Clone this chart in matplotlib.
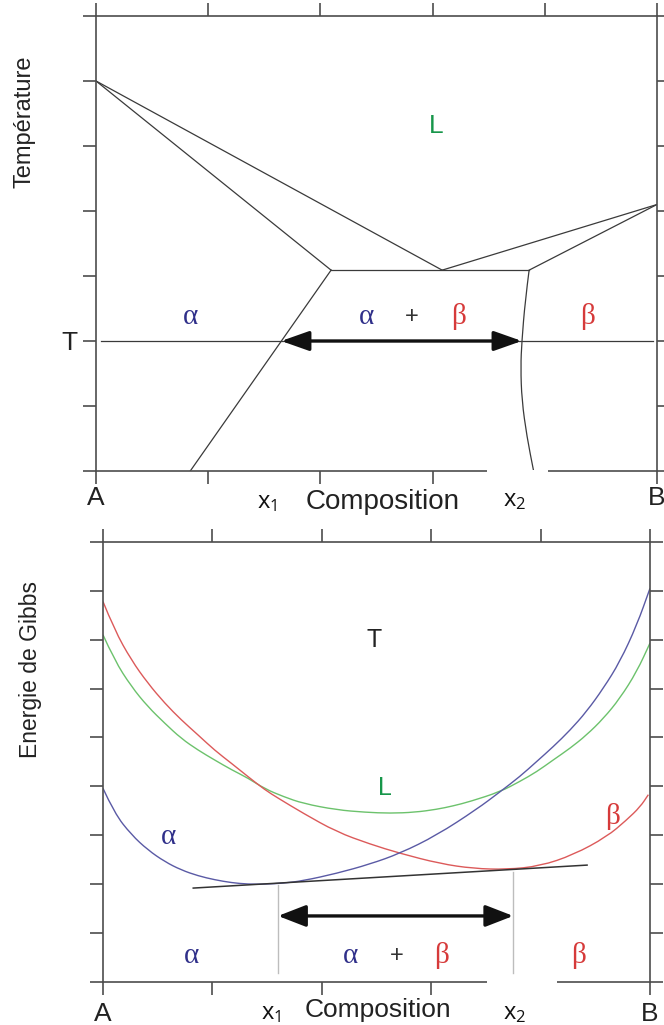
import matplotlib.pyplot as plt
from matplotlib.patches import FancyArrowPatch, PathPatch, Rectangle
from matplotlib.path import Path

# ---------------------------------------------------------------
# Top panel: phase diagram (composition 0..1, temperature 0..7)
# ---------------------------------------------------------------
T_A = 6.0           # melting point of A
T_B = 4.1           # melting point of B
T_EUT = 3.09        # eutectic temperature
T_LEVEL = 2.0       # temperature T of the tie line
x_alpha_eut = 0.419
x_liq_eut = 0.617
x_beta_eut = 0.772
x_alpha_solvus_low = 0.168
x1_top, x2_top = 0.330, 0.759

# beta solvus (x, T)
solvus_b_x = [0.772, 0.765, 0.759, 0.757, 0.759, 0.768, 0.780]
solvus_b_y = [3.09, 2.62, 1.99, 1.60, 1.09, 0.53, 0.0]

# ---------------------------------------------------------------
# Bottom panel: Gibbs energy curves at T (composition 0..1, G 0..9)
# ---------------------------------------------------------------
g_alpha_x = [0.0, 0.021, 0.052, 0.082, 0.113, 0.143, 0.174, 0.204, 0.235, 0.265,
             0.296, 0.330, 0.366, 0.427, 0.488, 0.543, 0.610, 0.683, 0.726, 0.762,
             0.793, 0.823, 0.854, 0.884, 0.915, 0.945, 0.976, 1.0]
g_alpha_y = [3.96, 3.45, 3.01, 2.70, 2.46, 2.29, 2.17, 2.09, 2.03, 2.00,
             2.00, 2.02, 2.07, 2.22, 2.41, 2.63, 3.00, 3.53, 3.89, 4.20,
             4.51, 4.81, 5.15, 5.53, 6.01, 6.55, 7.30, 8.05]

g_liq_x = [0.0, 0.021, 0.052, 0.082, 0.113, 0.143, 0.174, 0.204, 0.235, 0.265,
           0.296, 0.330, 0.366, 0.427, 0.480, 0.525, 0.570, 0.610, 0.640, 0.671,
           0.726, 0.762, 0.793, 0.823, 0.854, 0.884, 0.915, 0.945, 0.976, 1.0]
g_liq_y = [7.10, 6.58, 6.04, 5.63, 5.29, 4.98, 4.74, 4.54, 4.34, 4.17,
           3.95, 3.79, 3.65, 3.52, 3.47, 3.45, 3.47, 3.53, 3.60, 3.69,
           3.89, 4.10, 4.30, 4.54, 4.78, 5.05, 5.39, 5.80, 6.35, 6.93]

g_beta_x = [0.0, 0.021, 0.052, 0.082, 0.113, 0.143, 0.174, 0.204, 0.235, 0.265,
            0.296, 0.320, 0.366, 0.427, 0.488, 0.543, 0.616, 0.677, 0.738, 0.799,
            0.860, 0.921, 0.957, 0.982, 0.997]
g_beta_y = [7.78, 7.20, 6.58, 6.11, 5.70, 5.36, 5.05, 4.74, 4.47, 4.20,
            3.93, 3.76, 3.45, 3.07, 2.82, 2.63, 2.42, 2.32, 2.30, 2.37,
            2.60, 2.97, 3.31, 3.58, 3.83]

tangent_x = [0.165, 0.885]
tangent_y = [1.92, 2.39]
x1_bot, x2_bot = 0.320, 0.750

SANS = "Liberation Sans"
SERIF = "Liberation Serif"
SUBF = "Open Sans"
SPINE = "#4d4d4d"
LINE = "#3a3a3a"
C_ALPHA = "#30308a"
C_BETA = "#d63a3a"
C_LIQ = "#17964a"
CV_ALPHA = "#5a5aa5"
CV_BETA = "#dc5a5a"
CV_LIQ = "#6cc26c"

fig = plt.figure(figsize=(6.64, 10.25), dpi=100)
ax1 = fig.add_axes([0.1446, 0.5405, 0.8449, 0.4439])
ax2 = fig.add_axes([0.1551, 0.0420, 0.8238, 0.4293])


def style_axes(ax, ymax, pad_x):
    ax.set_xlim(0, 1)
    ax.set_ylim(0, ymax)
    ax.set_xticks([0, 0.2, 0.4, 0.6, 0.8, 1.0])
    ax.set_yticks(range(0, ymax + 1))
    for s in ax.spines.values():
        s.set_color(SPINE)
        s.set_linewidth(1.2)
    ax.tick_params(direction="out", length=9.5, width=1.2, color=SPINE,
                   top=True, right=True, labelsize=19, labelcolor="#222222")
    ax.tick_params(axis="x", pad=pad_x)
    for lab in ax.get_xticklabels() + ax.get_yticklabels():
        lab.set_family(SANS)


def smooth_curve(ax, xs, ys, color, lw=1.0):
    # quadratic Bezier through the midpoints, read points act as control points
    pts = list(zip(xs, ys))
    verts = [pts[0]]
    codes = [Path.MOVETO]
    for i in range(1, len(pts) - 1):
        mid = ((pts[i][0] + pts[i + 1][0]) / 2, (pts[i][1] + pts[i + 1][1]) / 2)
        verts += [pts[i], mid]
        codes += [Path.CURVE3, Path.CURVE3]
    verts.append(pts[-1])
    codes.append(Path.LINETO)
    ax.add_patch(PathPatch(Path(verts, codes), facecolor="none",
                           edgecolor=color, lw=lw))


def greek(ax, x, y, s, color, size=21):
    ax.text(x, y, s, color=color, fontsize=size, family=SERIF,
            ha="center", va="center")


def plus(ax, x, y):
    ax.text(x, y, "+", color="#333333", fontsize=17, family=SANS,
            ha="center", va="center")


def sub_label(ax, x, y_off, s):
    ax.text(x, y_off, s, transform=ax.get_xaxis_transform(),
            ha="center", va="center", fontsize=17, family=SUBF, color="#111111")


# ---------------- top panel ----------------
style_axes(ax1, 7, 1)
ax1.set_xticklabels(["A", "", "", "", "", "B"])
ax1.set_yticklabels(["", "", "T", "", "", "", "", ""])

lk = dict(color=LINE, lw=0.9)
ax1.plot([0, x_liq_eut], [T_A, T_EUT], **lk)
ax1.plot([0, x_alpha_eut], [T_A, T_EUT], **lk)
ax1.plot([x_alpha_eut, x_alpha_solvus_low], [T_EUT, 0], **lk)
ax1.plot([x_alpha_eut, x_beta_eut], [T_EUT, T_EUT], **lk)
ax1.plot([x_liq_eut, 1], [T_EUT, T_B], **lk)
ax1.plot([x_beta_eut, 1], [T_EUT, T_B], **lk)
smooth_curve(ax1, solvus_b_x, solvus_b_y, LINE, lw=0.9)
ax1.plot([0.009, 0.993], [T_LEVEL, T_LEVEL], **lk)

ax1.add_patch(FancyArrowPatch((x1_top, T_LEVEL), (x2_top, T_LEVEL),
                              arrowstyle="<|-|>,head_length=0.85,head_width=0.3",
                              mutation_scale=20, lw=2.4, color="#111111",
                              shrinkA=0, shrinkB=0, zorder=5))

ax1.text(0.606, 5.31, "L", color=C_LIQ, fontsize=19, family=SANS,
         ha="center", va="center")
greek(ax1, 0.168, 2.37, "α", C_ALPHA)
greek(ax1, 0.483, 2.37, "α", C_ALPHA)
plus(ax1, 0.563, 2.37)
greek(ax1, 0.647, 2.37, "β", C_BETA)
greek(ax1, 0.877, 2.37, "β", C_BETA)

sub_label(ax1, 0.305, -0.068, r"$\mathregular{x_1}$")
sub_label(ax1, 0.747, -0.064, r"$\mathregular{x_2}$")
ax1.text(0.51, -0.069, "Composition", transform=ax1.get_xaxis_transform(),
         ha="center", va="center", fontsize=20, family=SANS, color="#222222")
ax1.text(-0.128, 0.767, "Température", transform=ax1.transAxes, rotation=90,
         ha="center", va="center", fontsize=17, family=SANS, color="#222222")

# ---------------- bottom panel ----------------
style_axes(ax2, 9, 5)
ax2.set_xticklabels(["A", "", "", "", "", "B"])
ax2.set_yticklabels([""] * 10)

smooth_curve(ax2, g_liq_x, g_liq_y, CV_LIQ)
smooth_curve(ax2, g_beta_x, g_beta_y, CV_BETA)
smooth_curve(ax2, g_alpha_x, g_alpha_y, CV_ALPHA)
ax2.plot(tangent_x, tangent_y, color="#333333", lw=1.1)
ax2.plot([x1_bot, x1_bot], [0.18, 1.98], color="#bdbdbd", lw=1.0)
ax2.plot([x2_bot, x2_bot], [0.18, 2.25], color="#bdbdbd", lw=1.0)

ax2.add_patch(FancyArrowPatch((x1_bot, 1.35), (x2_bot, 1.35),
                              arrowstyle="<|-|>,head_length=0.85,head_width=0.33",
                              mutation_scale=20, lw=2.4, color="#111111",
                              shrinkA=0, shrinkB=0, zorder=5))

ax2.text(0.496, 6.99, "T", color="#222222", fontsize=18, family=SANS,
         ha="center", va="center")
ax2.text(0.516, 3.96, "L", color=C_LIQ, fontsize=18, family=SANS,
         ha="center", va="center")
greek(ax2, 0.119, 2.97, "α", C_ALPHA)
greek(ax2, 0.932, 3.38, "β", C_BETA)
greek(ax2, 0.162, 0.54, "α", C_ALPHA)
greek(ax2, 0.453, 0.54, "α", C_ALPHA)
plus(ax2, 0.537, 0.54)
greek(ax2, 0.619, 0.54, "β", C_BETA)
greek(ax2, 0.869, 0.54, "β", C_BETA)

sub_label(ax2, 0.308, -0.070, r"$\mathregular{x_1}$")
sub_label(ax2, 0.753, -0.070, r"$\mathregular{x_2}$")
ax2.text(0.503, -0.0635, "Composition", transform=ax2.get_xaxis_transform(),
         ha="center", va="center", fontsize=19, family=SANS, color="#222222")
ax2.text(-0.133, 0.711, "Energie de Gibbs", transform=ax2.transAxes, rotation=90,
         ha="center", va="center", fontsize=16.5, family=SANS, color="#222222")

# white patches behind the x2 labels that hide part of the bottom spines
W, H = 664.0, 1025.0
for (px0, px1, py0, py1) in [(487, 548, 469.5, 487), (487, 557, 980, 997)]:
    fig.add_artist(Rectangle((px0 / W, 1 - py1 / H), (px1 - px0) / W, (py1 - py0) / H,
                             transform=fig.transFigure, facecolor="white",
                             edgecolor="none", zorder=10))

fig.savefig("out.png", dpi=100)
